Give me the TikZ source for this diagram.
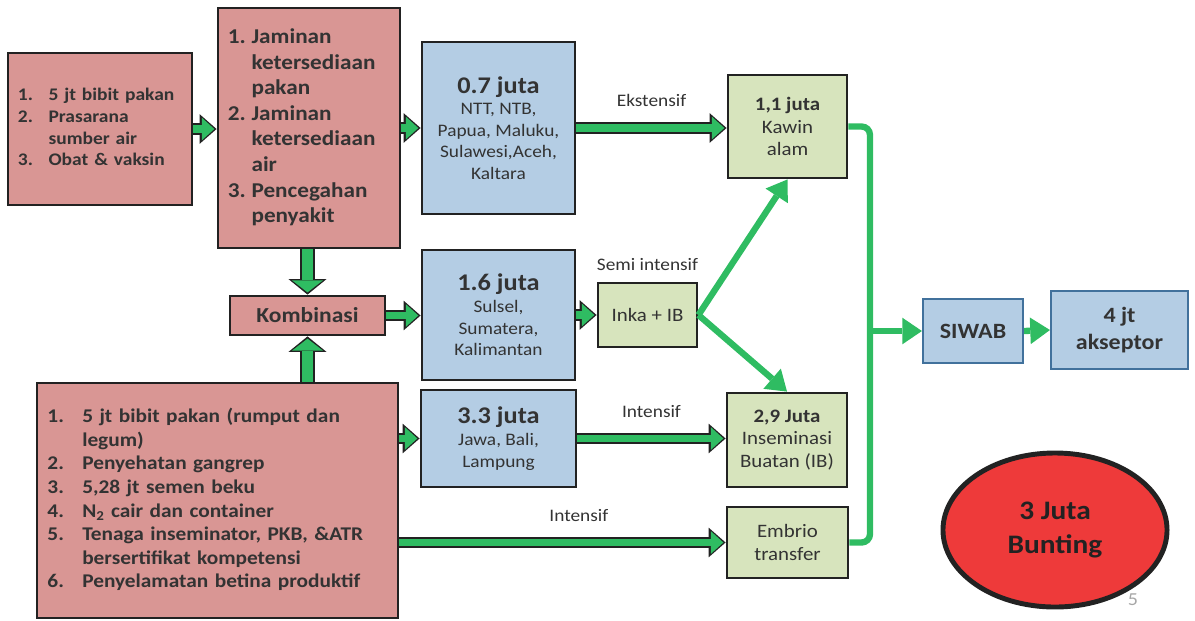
\documentclass[tikz,border=0pt]{standalone}
\usepackage{fontspec}
\setmainfont{Carlito}[FakeStretch=1.1]
\usetikzlibrary{arrows.meta,shapes.geometric,positioning}

\definecolor{pinkfill}{HTML}{D99694}
\definecolor{bluefill}{HTML}{B4CDE4}
\definecolor{greenfill}{HTML}{D7E4BD}
\definecolor{flowgreen}{HTML}{2FBC62}
\definecolor{boxline}{HTML}{222222}
\definecolor{textgray}{HTML}{333333}
\definecolor{siwabline}{HTML}{41719C}
\definecolor{buntingred}{HTML}{EE3A3A}

\newcommand{\fs}[2]{\fontsize{#1}{#2}\selectfont}

\tikzset{
  box/.style={draw=boxline, line width=2pt, text=textgray, inner sep=0pt},
  listbox/.style={box, fill=pinkfill, align=left, inner xsep=0.25cm},
  bluebox/.style={box, fill=bluefill, align=center, font=\fs{12.5}{15.4}},
  greenbox/.style={box, fill=greenfill, align=center, font=\fs{13.5}{15.8}},
  siwabbox/.style={draw=siwabline, line width=1.5pt, fill=bluefill, text=textgray,
    align=center, font=\bfseries\fs{15.5}{19}},
  fatarrow/.style={draw=flowgreen, line width=5.5pt, shorten >=1.6pt,
    -{Triangle[length=8.8pt,width=16pt,line width=0pt]},
    preaction={draw=boxline, line width=8.5pt, shorten >=0pt,
      -{Triangle[length=12pt,width=21pt,line width=0pt]}}},
  widearrow/.style={draw=flowgreen, line width=8pt, shorten >=1.6pt,
    -{Triangle[length=8.5pt,width=22pt,line width=0pt]},
    preaction={draw=boxline, line width=11pt, shorten >=0pt,
      -{Triangle[length=11pt,width=27pt,line width=0pt]}}},
  thinarrow/.style={draw=flowgreen, line width=4.5pt,
    -{Triangle[length=14pt,width=19pt,line width=0pt]}},
  flowlabel/.style={text=textgray, font=\fs{12.5}{15}}
}

\begin{document}
\begin{tikzpicture}[x=0.025cm, y=-0.025cm]
\useasboundingbox (0,0) rectangle (1195,620);

\node[listbox, minimum width=4.6cm, minimum height=3.8cm, text width=4.1cm,
  font=\bfseries\fs{12.6}{15.4}] (bibit) at (100,129)
  {\begin{tabular}{@{}l@{\hspace{11pt}}l@{}}
   1. & 5 jt bibit pakan\\
   2. & Prasarana\\
      & sumber air\\
   3. & Obat \& vaksin
   \end{tabular}};

\node[listbox, minimum width=4.55cm, minimum height=6cm, text width=4.05cm,
  font=\bfseries\fs{15}{18.2}] (jaminan) at (309,128)
  {\begin{tabular}{@{}l@{\hspace{4pt}}l@{}}
   1. & Jaminan\\
      & ketersediaan\\
      & pakan\\
   2. & Jaminan\\
      & ketersediaan\\
      & air\\
   3. & Pencegahan\\
      & penyakit
   \end{tabular}};

\node[box, fill=pinkfill, minimum width=3.875cm, minimum height=0.975cm,
  font=\bfseries\fs{15.2}{17}] (kombinasi) at (307.5,315.5) {Kombinasi};

\node[listbox, minimum width=9.025cm, minimum height=5.875cm, text width=8.5cm,
  font=\bfseries\fs{13.8}{16.8}] (inputib) at (217.5,500.5)
  {\begin{tabular}{@{}l@{\hspace{13pt}}l@{}}
   1. & 5 jt bibit pakan (rumput dan\\
      & legum)\\
   2. & Penyehatan gangrep\\
   3. & 5,28 jt semen beku\\
   4. & N\textsubscript{2} cair dan container\\
   5. & Tenaga inseminator, PKB, \&ATR\\
      & bersertifikat kompetensi\\
   6. & Penyelamatan betina produktif
   \end{tabular}};

\node[bluebox, minimum width=3.825cm, minimum height=4.3cm] (juta07) at (498.5,128)
  {{\bfseries\fs{17}{19}0.7 juta}\\NTT, NTB,\\Papua, Maluku,\\Sulawesi,Aceh,\\Kaltara};
\node[bluebox, minimum width=3.825cm, minimum height=3.25cm] (juta16) at (498.5,315)
  {{\bfseries\fs{17}{19}1.6 juta}\\Sulsel,\\Sumatera,\\Kalimantan};
\node[bluebox, minimum width=3.875cm, minimum height=2.425cm] (juta33) at (498.5,438.5)
  {{\bfseries\fs{17}{19}3.3 juta}\\Jawa, Bali,\\Lampung};

\node[greenbox, minimum width=2.975cm, minimum height=2.575cm] (kawin) at (787.5,126.5)
  {\textbf{1,1 juta}\\Kawin\\alam};
\node[greenbox, minimum width=2.475cm, minimum height=1.6cm] (inka) at (647.5,315) {Inka + IB};
\node[greenbox, minimum width=3cm, minimum height=2.35cm] (inseminasi) at (787,440)
  {\textbf{2,9 Juta}\\Inseminasi\\Buatan (IB)};
\node[greenbox, minimum width=3.025cm, minimum height=1.775cm] (embrio) at (787.5,542.5)
  {Embrio\\transfer};

\node[siwabbox, minimum width=2.5cm, minimum height=1.6cm] (siwab) at (973,331) {SIWAB};
\node[siwabbox, minimum width=3.425cm, minimum height=1.95cm] (akseptor) at (1119.5,330)
  {4 jt\\akseptor};

\node[ellipse, draw=boxline, line width=3.5pt, fill=buntingred, minimum width=5.6cm,
  minimum height=3.85cm, align=center, text=boxline, font=\bfseries\fs{19}{23.5}]
  (bunting) at (1055,530) {3 Juta\\Bunting};
\node[text=gray!70, font=\fs{13}{15}] (pagenum) at (1133,600) {5};

\draw[fatarrow] (bibit.east) -- (bibit.east -| jaminan.west);
\draw[fatarrow] (jaminan.east) -- (jaminan.east -| juta07.west);
\draw[widearrow] (kombinasi.north |- jaminan.south) -- (kombinasi.north);
\draw[widearrow] (kombinasi.south |- inputib.north) -- (kombinasi.south);
\draw[fatarrow] (kombinasi.east) -- (kombinasi.east -| juta16.west);
\draw[fatarrow] (juta33.west -| inputib.east) -- (juta33.west);
\draw[fatarrow] (juta07.east) -- (juta07.east -| kawin.west)
  node[flowlabel, midway, above=9pt] {Ekstensif};
\draw[fatarrow] (juta16.east) -- (juta16.east -| inka.west);
\node[flowlabel, above=4pt of inka] (semi) {Semi intensif};
\draw[fatarrow] (juta33.east) -- (juta33.east -| inseminasi.west)
  node[flowlabel, midway, above=9pt] {Intensif};
\draw[fatarrow] (embrio.west -| inputib.east) -- (embrio.west)
  node[flowlabel, pos=0.55, above=9pt] {Intensif};

\draw[thinarrow] (inka.east) -- (kawin.south);
\draw[thinarrow] (inka.east) -- (inseminasi.north);
\coordinate (bus) at (870,331);
\draw[flowgreen, line width=4.5pt, rounded corners=6pt] (kawin.east) -| (bus) |- (embrio.east);
\draw[thinarrow] (bus) -- (siwab.west);
\draw[thinarrow] (siwab.east) -- (akseptor.west);
\end{tikzpicture}
\end{document}
